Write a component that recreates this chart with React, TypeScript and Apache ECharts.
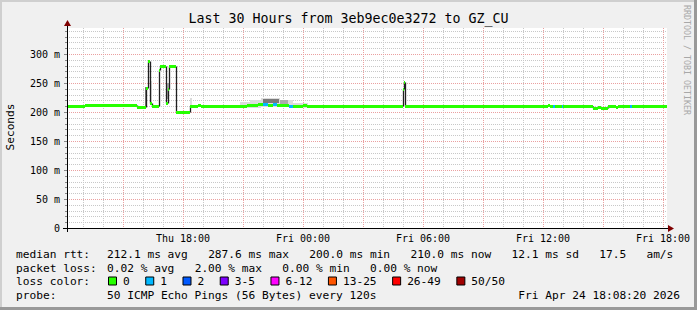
import React, { useEffect, useRef } from 'react';
import * as echarts from 'echarts';

const MONO = '"DejaVu Sans Mono", monospace';

// x values are minutes since Thu 12:00
const X_MIN = 12;
const X_MAX = 1812;
const Y_MAX = 345;

const xLabelMinutes = [360, 720, 1080, 1440, 1800];
const xLabelTexts = ['Thu 18:00', 'Fri 00:00', 'Fri 06:00', 'Fri 12:00', 'Fri 18:00'];
const xMajorGridMinutes = [180, 360, 540, 720, 900, 1080, 1260, 1440, 1620, 1800];
const xMinorGridMinutes = [60, 120, 240, 300, 420, 480, 600, 660, 780, 840, 960, 1020, 1140, 1200, 1320, 1380, 1500, 1560, 1680, 1740];
const yMajorGridMs = [50, 100, 150, 200, 250, 300];
const yMinorGridMs = [10, 20, 30, 40, 60, 70, 80, 90, 110, 120, 130, 140, 160, 170, 180, 190, 210, 220, 230, 240, 260, 270, 280, 290, 310, 320, 330, 340];

// median RTT (ms), step samples
const sampleMinutes = [12, 66, 78, 90, 102, 114, 126, 141, 153, 165, 177, 189, 201, 213, 222, 248, 254, 260, 266, 288, 292, 310, 314, 318, 338, 381, 405, 414, 536, 551, 561, 585, 600, 615, 630, 642, 678, 690, 719, 732, 1021, 1024, 1027, 1455, 1460, 1470, 1475, 1496, 1500, 1590, 1605, 1615, 1636, 1659, 1665, 1701, 1707, 1812];
const medianMs = [210, 212, 213, 211.5, 213, 212, 213, 211.5, 213, 212, 213, 211.5, 213, 212, 209, 242, 287.6, 215, 210, 272, 279, 216, 240, 279, 200, 210, 213, 210, 211, 212, 213, 214, 214, 213, 214, 212, 210, 210, 213, 210, 240, 252, 210, 213, 210, 210, 210, 210, 210, 207, 209, 207, 210, 208, 210, 210, 210, 210];
const lossCount = [0, 0, 0, 0, 0, 0, 0, 0, 0, 0, 0, 0, 0, 0, 0, 0, 0, 0, 0, 0, 0, 0, 0, 0, 0, 0, 0, 0, 0, 0, 0, 0, 1, 0, 1, 0, 1, 0, 0, 0, 0, 0, 0, 0, 0, 1, 0, 1, 0, 0, 0, 0, 0, 0, 0, 1, 0, 0];

// smoke (ping spread) blocks
const smokeStart = [246, 260, 311, 338, 381, 530, 560, 595, 600, 650, 650, 690];
const smokeEnd = [252, 267, 317, 343, 386, 560, 595, 650, 648, 690, 675, 735];
const smokeLow = [209, 212, 222, 205, 210, 207, 207, 208, 215, 208, 214, 207];
const smokeHigh = [243, 254, 250, 243, 225, 217, 221, 224, 223, 221, 220, 216];
const smokeLevel = [2, 0, 1, 0, 0, 0, 0, 0, 2, 0, 1, 0];
const smokeColors = ['#dcdcdc', '#ababab', '#7a7a7a'];

const lossBuckets = ['0', '1', '2', '3-5', '6-12', '13-25', '26-49', '50/50'];
const lossUpper = [0, 1, 2, 5, 12, 25, 49, 50];
const lossColors = ['#26ff00', '#00b8ff', '#0059ff', '#7e00ff', '#ff00ff', '#ff5500', '#ff0000', '#a00000'];

const titleText = 'Last 30 Hours from 3eb9ec0e3272 to GZ_CU';
const yAxisTitle = 'Seconds';
const row1Label = 'median rtt:';
const row1Text = '212.1 ms avg   287.6 ms max   200.0 ms min   210.0 ms now   12.1 ms sd   17.5   am/s';
const row2Label = 'packet loss:';
const row2Text = '0.02 % avg   2.00 % max   0.00 % min   0.00 % now';
const row3Label = 'loss color:';
const row4Label = 'probe:';
const row4Text = '50 ICMP Echo Pings (56 Bytes) every 120s';
const dateText = 'Fri Apr 24 18:08:20 2026';
const creditText = 'RRDTOOL / TOBI OETIKER';

const bucketOf = (n: number) => {
  const i = lossUpper.findIndex((u) => n <= u);
  return i < 0 ? lossUpper.length - 1 : i;
};

const LEG_FS = 11.2;
const CW = LEG_FS * 0.602;

function tokenTexts(s: string, x0: number, y: number) {
  const out: any[] = [];
  const re = /\S+(?: \S+)*/g;
  let m: RegExpExecArray | null;
  while ((m = re.exec(s))) {
    out.push({
      type: 'text',
      x: x0 + m.index * CW,
      y,
      z: 20,
      silent: true,
      style: { text: m[0], fill: '#000', fontSize: LEG_FS, fontFamily: MONO, textVerticalAlign: 'middle' },
    });
  }
  return out;
}

export default function App() {
  const ref = useRef<HTMLDivElement>(null);

  useEffect(() => {
    if (!ref.current) return;
    const chart = echarts.init(ref.current, null, { renderer: 'svg' });

    const segData: number[][] = [];
    const vertData: number[][] = [];
    for (let i = 0; i < sampleMinutes.length - 1; i++) {
      segData.push([sampleMinutes[i], sampleMinutes[i + 1], medianMs[i], lossCount[i]]);
      if (i + 1 < sampleMinutes.length - 1 && medianMs[i + 1] !== medianMs[i]) {
        vertData.push([sampleMinutes[i + 1], medianMs[i], medianMs[i + 1]]);
      }
    }
    const smokeData = smokeStart.map((s, i) => [s, smokeEnd[i], smokeLow[i], smokeHigh[i], smokeLevel[i]]);

    const vGrid = (vals: number[], color: string, z: number) => ({
      type: 'custom',
      coordinateSystem: 'cartesian2d',
      silent: true,
      z,
      data: vals.map((v) => [v, 0]),
      renderItem: (params: any, api: any) => {
        const cs = params.coordSys;
        const x = Math.round(api.coord([api.value(0), 0])[0]) + 0.5;
        return {
          type: 'line',
          shape: { x1: x, y1: cs.y, x2: x, y2: cs.y + cs.height },
          style: { stroke: color, lineWidth: 1, lineDash: [1, 1] },
        };
      },
    });
    const hGrid = (vals: number[], color: string, tick: number, z: number) => ({
      type: 'custom',
      coordinateSystem: 'cartesian2d',
      silent: true,
      z,
      data: vals.map((v) => [X_MIN, v]),
      renderItem: (params: any, api: any) => {
        const cs = params.coordSys;
        const y = Math.round(api.coord([X_MIN, api.value(1)])[1]) + 0.5;
        return {
          type: 'group',
          children: [
            { type: 'line', shape: { x1: cs.x, y1: y, x2: cs.x + cs.width, y2: y }, style: { stroke: color, lineWidth: 1, lineDash: [1, 1] } },
            { type: 'line', shape: { x1: cs.x - tick, y1: y, x2: cs.x, y2: y }, style: { stroke: '#888888', lineWidth: 1 } },
          ],
        };
      },
    });

    const graphic: any[] = [];
    // frame
    graphic.push({ type: 'rect', shape: { x: 0, y: 0, width: 697, height: 2 }, style: { fill: '#cfcfcf' }, z: 30, silent: true });
    graphic.push({ type: 'rect', shape: { x: 0, y: 0, width: 2, height: 310 }, style: { fill: '#cfcfcf' }, z: 30, silent: true });
    graphic.push({ type: 'rect', shape: { x: 0, y: 307, width: 697, height: 3 }, style: { fill: '#999999' }, z: 30, silent: true });
    graphic.push({ type: 'rect', shape: { x: 694, y: 0, width: 3, height: 310 }, style: { fill: '#999999' }, z: 30, silent: true });
    // axes
    graphic.push({ type: 'line', shape: { x1: 63, y1: 228.5, x2: 668, y2: 228.5 }, style: { stroke: '#000', lineWidth: 1 }, z: 20, silent: true });
    graphic.push({ type: 'line', shape: { x1: 67.5, y1: 232, x2: 67.5, y2: 26 }, style: { stroke: '#000', lineWidth: 1 }, z: 20, silent: true });
    graphic.push({ type: 'polygon', shape: { points: [[668, 225], [674, 228.5], [668, 232]] }, style: { fill: '#7f0000' }, z: 21, silent: true });
    graphic.push({ type: 'polygon', shape: { points: [[64, 26], [67.5, 20], [71, 26]] }, style: { fill: '#7f0000' }, z: 21, silent: true });
    // y axis title
    graphic.push({
      type: 'text', x: 10.5, y: 127, rotation: Math.PI / 2, z: 20, silent: true,
      style: { text: yAxisTitle, fill: '#000', fontSize: LEG_FS, fontFamily: MONO, textAlign: 'center', textVerticalAlign: 'middle' },
    });
    // credit
    graphic.push({
      type: 'text', x: 687, y: 60, rotation: -Math.PI / 2, z: 20, silent: true,
      style: { text: creditText, fill: '#a8a8a8', fontSize: 8.3, fontFamily: MONO, textAlign: 'center', textVerticalAlign: 'middle' },
    });
    // legend rows
    const rowY = [254.5, 268, 281.5, 295];
    graphic.push(...tokenTexts(row1Label, 16, rowY[0]));
    graphic.push(...tokenTexts(row1Text, 107, rowY[0]));
    graphic.push(...tokenTexts(row2Label, 16, rowY[1]));
    graphic.push(...tokenTexts(row2Text, 107, rowY[1]));
    graphic.push(...tokenTexts(row3Label, 16, rowY[2]));
    let bx = 108;
    lossBuckets.forEach((lab, i) => {
      graphic.push({
        type: 'rect', z: 20, silent: true,
        shape: { x: bx + 0.5, y: rowY[2] - 4.5, width: 8, height: 8 },
        style: { fill: lossColors[i], stroke: '#000', lineWidth: 1 },
      });
      graphic.push(...tokenTexts(lab, bx + 15, rowY[2]));
      bx = bx + 15 + lab.length * CW + 15.5;
    });
    graphic.push(...tokenTexts(row4Label, 16, rowY[3]));
    graphic.push(...tokenTexts(row4Text, 107, rowY[3]));
    graphic.push({
      type: 'text', x: 680, y: rowY[3], z: 20, silent: true,
      style: { text: dateText, fill: '#000', fontSize: LEG_FS, fontFamily: MONO, textAlign: 'right', textVerticalAlign: 'middle' },
    });

    const option: any = {
      animation: false,
      backgroundColor: '#f0f0f0',
      textStyle: { fontFamily: MONO },
      title: {
        text: titleText,
        left: 'center',
        top: 12,
        padding: 0,
        textStyle: { fontSize: 13.3, fontWeight: 'normal', fontFamily: MONO, color: '#000' },
      },
      grid: {
        left: 67, top: 28, width: 600, height: 200,
        show: true, backgroundColor: '#ffffff', borderWidth: 0,
        containLabel: false, outerBoundsMode: 'none',
      },
      xAxis: {
        type: 'value',
        min: X_MIN,
        max: X_MAX,
        axisLine: { show: false },
        axisTick: { show: false },
        splitLine: { show: false },
        axisLabel: {
          customValues: xLabelMinutes,
          formatter: (v: number) => {
            const i = xLabelMinutes.indexOf(v);
            return i >= 0 ? xLabelTexts[i] : '';
          },
          margin: 5,
          fontSize: 10,
          color: '#000',
          fontFamily: MONO,
        },
      },
      yAxis: {
        type: 'value',
        min: 0,
        max: Y_MAX,
        interval: 50,
        axisLine: { show: false },
        axisTick: { show: false },
        splitLine: { show: false },
        axisLabel: {
          formatter: (v: number) => (v === 0 ? '0' : v % 50 === 0 ? `${v} m` : ''),
          showMaxLabel: false,
          margin: 7,
          fontSize: 10,
          color: '#000',
          fontFamily: MONO,
        },
      },
      series: [
        vGrid(xMinorGridMinutes, '#c8c8c8', 1),
        hGrid(yMinorGridMs, '#c8c8c8', 2, 1),
        vGrid(xMajorGridMinutes, '#eaa0a0', 2),
        hGrid(yMajorGridMs, '#eaa0a0', 3, 2),
        {
          type: 'custom',
          name: 'smoke',
          coordinateSystem: 'cartesian2d',
          silent: true,
          z: 3,
          data: smokeData,
          encode: { x: [0, 1], y: [2, 3] },
          renderItem: (params: any, api: any) => {
            const a = api.coord([api.value(0), api.value(3)]);
            const b = api.coord([api.value(1), api.value(2)]);
            const x0 = Math.round(a[0]);
            const x1 = Math.max(x0 + 1, Math.round(b[0]));
            const y0 = Math.round(a[1]);
            const y1 = Math.round(b[1]);
            return {
              type: 'rect',
              shape: { x: x0, y: y0, width: x1 - x0, height: y1 - y0 },
              style: { fill: smokeColors[api.value(4)] },
            };
          },
        },
        {
          type: 'custom',
          name: 'median steps',
          coordinateSystem: 'cartesian2d',
          silent: true,
          z: 4,
          data: vertData,
          encode: { x: 0, y: [1, 2] },
          renderItem: (params: any, api: any) => {
            const a = api.coord([api.value(0), api.value(1)]);
            const b = api.coord([api.value(0), api.value(2)]);
            const x = Math.round(a[0]) + 0.5;
            return {
              type: 'line',
              shape: { x1: x, y1: Math.round(a[1]) + 0.5, x2: x, y2: Math.round(b[1]) + 0.5 },
              style: { stroke: '#202020', lineWidth: 1.3 },
            };
          },
        },
        {
          type: 'custom',
          name: 'median rtt',
          coordinateSystem: 'cartesian2d',
          silent: true,
          z: 5,
          data: segData,
          encode: { x: [0, 1], y: 2 },
          renderItem: (params: any, api: any) => {
            const a = api.coord([api.value(0), api.value(2)]);
            const b = api.coord([api.value(1), api.value(2)]);
            const y = Math.round(a[1]) + 0.5;
            const x0 = Math.round(a[0]);
            const x1 = Math.max(x0 + 1, Math.round(b[0]));
            return {
              type: 'line',
              shape: { x1: x0, y1: y, x2: x1, y2: y },
              style: { stroke: lossColors[bucketOf(api.value(3))], lineWidth: 3 },
            };
          },
        },
      ],
      graphic,
    };

    chart.setOption(option);
    return () => chart.dispose();
  }, []);

  return <div ref={ref} style={{ position: 'fixed', left: 0, top: 0, width: 697, height: 310 }} />;
}
